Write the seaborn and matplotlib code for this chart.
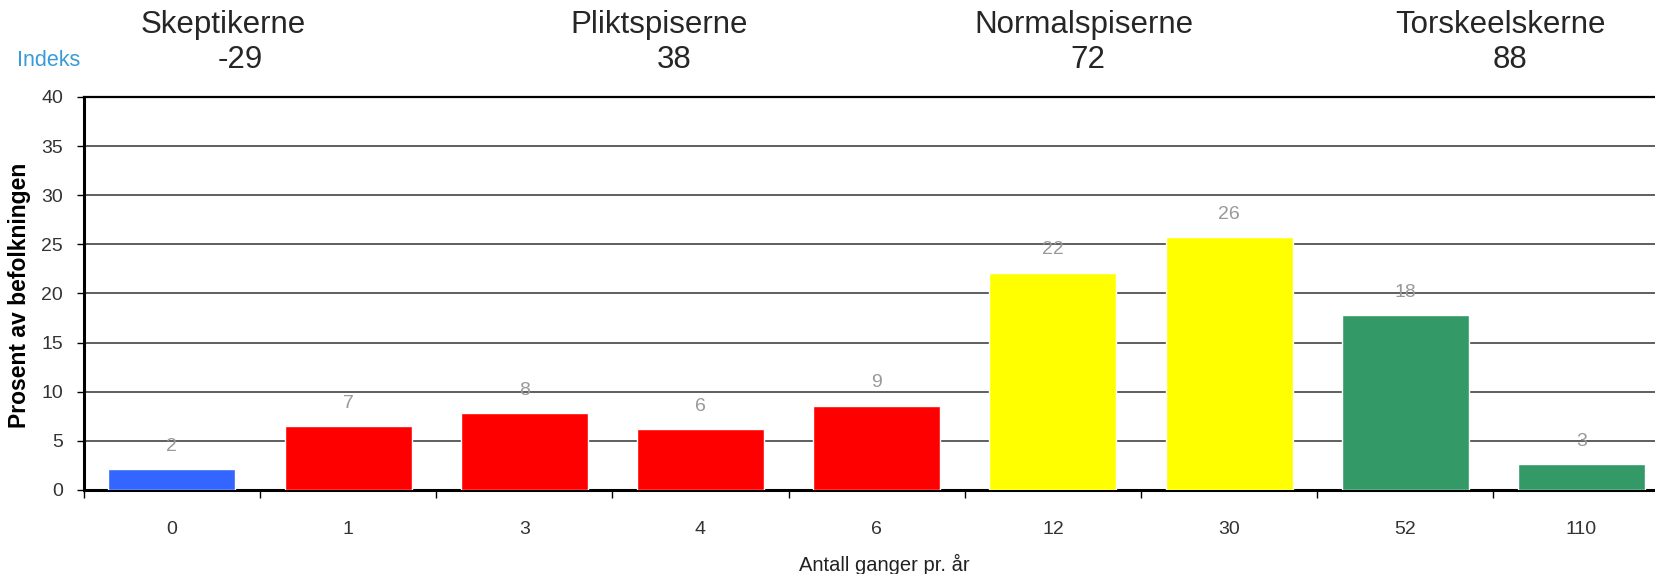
import matplotlib
matplotlib.use("Agg")
import matplotlib.pyplot as plt
import seaborn as sns
import pandas as pd
from matplotlib.ticker import FixedLocator

# data
categories = ["0", "1", "3", "4", "6", "12", "30", "52", "110"]
values = [2.1, 6.5, 7.8, 6.2, 8.6, 22.1, 25.7, 17.8, 2.6]
bar_labels = ["2", "7", "8", "6", "9", "22", "26", "18", "3"]
bar_colors = ["#3366FF", "#FF0000", "#FF0000", "#FF0000", "#FF0000",
              "#FFFF00", "#FFFF00", "#339966", "#339966"]

groups = ["Skeptikerne", "Pliktspiserne", "Normalspiserne", "Torskeelskerne"]
group_index = ["-29", "38", "72", "88"]

sns.set_style("white")
plt.rcParams["font.family"] = ["Liberation Sans", "DejaVu Sans"]

W, H = 1656, 574
fig = plt.figure(figsize=(W / 100, H / 100), dpi=100)
# axes runs past the right edge like in the cropped original
ax = fig.add_axes([83.8 / W, 84 / H, 1585.8 / W, 393 / H])

df = pd.DataFrame({"antall": categories, "prosent": values})
sns.barplot(data=df, x="antall", y="prosent", hue="antall", palette=bar_colors,
            legend=False, width=0.72, saturation=1, ax=ax, zorder=3)

ax.set_xlim(-0.5, len(categories) - 0.5)
ax.set_ylim(0, 40)
ax.set_yticks(range(0, 41, 5))
ax.yaxis.grid(True, color="#333333", linewidth=1.1, zorder=0)
ax.set_axisbelow(True)

for s in ["left", "bottom", "top"]:
    ax.spines[s].set_visible(True)
    ax.spines[s].set_color("black")
ax.spines["left"].set_linewidth(2.2)
ax.spines["bottom"].set_linewidth(2.2)
ax.spines["top"].set_linewidth(1.6)
ax.spines["right"].set_visible(False)

ax.tick_params(axis="y", direction="out", length=5, width=1, color="black",
               labelsize=14, labelcolor="#333333", pad=10, left=True)
ax.tick_params(axis="x", which="major", length=0, labelsize=14,
               labelcolor="#333333", pad=22)
ax.xaxis.set_minor_locator(FixedLocator([i + 0.5 for i in range(-1, len(categories))]))
ax.tick_params(axis="x", which="minor", direction="out", length=6, width=1,
               color="black", bottom=True)

ax.set_xlabel("Antall ganger pr. år", fontsize=14.5, color="#222222")
ax.xaxis.set_label_coords(0.505, -0.163)
ax.set_ylabel("Prosent av befolkningen", fontsize=16.5, fontweight="bold",
              color="black")
ax.yaxis.set_label_coords(-0.0333, 0.496)

for p, lab in zip(ax.patches, bar_labels):
    ax.annotate(lab, (p.get_x() + p.get_width() / 2, p.get_height()),
                xytext=(0, 16.5), textcoords="offset points",
                ha="center", va="center", fontsize=14, color="#999999")

# group headers above the plot
head_x = [223, 659, 1084, 1501]
idx_x = [240, 674, 1088, 1510]
for g, gx, iv, ix in zip(groups, head_x, group_index, idx_x):
    fig.text(gx / W, 1 - 25 / H, g, ha="center", va="center", fontsize=22.5)
    fig.text(ix / W, 1 - 60 / H, iv, ha="center", va="center", fontsize=22.5)
fig.text(49 / W, 1 - 60 / H, "Indeks", ha="center", va="center",
         fontsize=15.5, color="#3A9AD9")

fig.savefig("out.png", dpi=100)
